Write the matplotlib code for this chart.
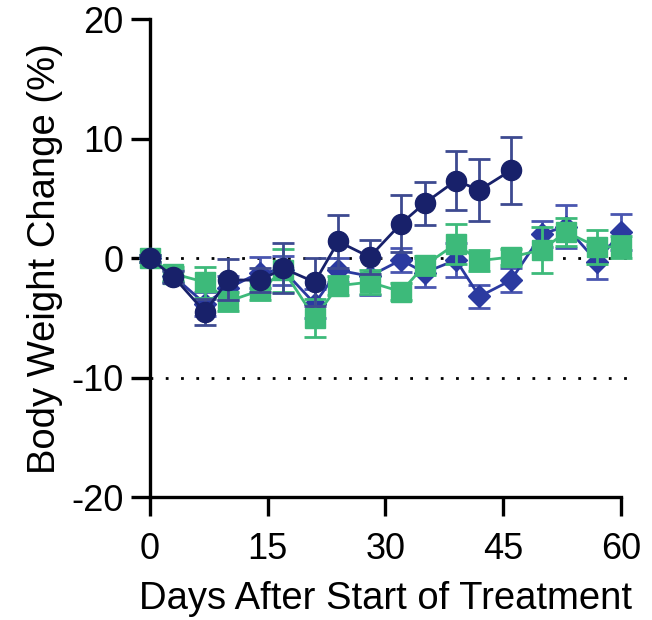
import numpy as np
import matplotlib.pyplot as plt

plt.rcParams['font.family'] = ['Liberation Sans', 'DejaVu Sans']
plt.rcParams['axes.unicode_minus'] = False

days = [0, 3, 7, 10, 14, 17, 21, 24, 28, 32, 35, 39, 42, 46, 50, 53, 57, 60]

# navy circles (stops at day 46)
circ_y = [0, -1.55, -4.5, -1.8, -1.85, -0.85, -2.0, 1.4, 0.1, 2.9, 4.6, 6.5, 5.7, 7.35]
circ_err = [0.3, 0.5, 1.1, 1.7, 1.0, 2.1, 2.0, 2.2, 1.4, 2.4, 1.8, 2.5, 2.6, 2.8]

# green squares
sq_y = [0, -1.3, -2.0, -3.6, -2.7, -1.0, -5.0, -2.3, -2.0, -2.8, -0.6, 1.2, -0.2, 0.1,
        0.7, 2.2, 0.95, 0.95]
sq_err = [0.3, 0.6, 1.3, 0.8, 0.8, 1.8, 1.6, 0.8, 1.0, 0.7, 0.8, 1.7, 0.9, 0.7,
          1.9, 1.2, 1.4, 0.9]

# blue diamonds
dia_y = [0, -1.5, -3.8, -2.5, -1.2, -1.0, -3.8, -1.0, -1.5, -0.15, -1.2, -0.15, -3.2, -1.85,
         2.05, 2.65, -0.3, 2.2]
dia_err = [0.3, 0.5, 1.0, 1.0, 1.3, 1.2, 1.2, 1.0, 1.6, 1.0, 1.2, 1.4, 1.0, 1.0,
           1.1, 1.8, 1.4, 1.5]

navy = '#18216a'
blue = '#2b3aa0'
green = '#3dba7a'

fig = plt.figure(figsize=(6.52, 6.2), dpi=100)
ax = fig.add_axes([0.230, 0.198, 0.722, 0.771])

ax.plot([0, 61], [0, 0], color='black', lw=2, dashes=(1, 4.5), zorder=1, clip_on=False)
ax.plot([0, 61], [-10, -10], color='black', lw=2, dashes=(1, 4.5), zorder=1, clip_on=False)

ax.errorbar(days, dia_y, yerr=dia_err, color=blue, marker='D', ms=11, lw=2,
            elinewidth=2, capsize=8, capthick=2, ecolor='#4a56b0', zorder=2,
            clip_on=False)
ax.errorbar(days, sq_y, yerr=sq_err, color=green, marker='s', ms=14, lw=2,
            elinewidth=2, capsize=8, capthick=2, zorder=3, clip_on=False)
ax.errorbar(days[:len(circ_y)], circ_y, yerr=circ_err, color=navy, marker='o', ms=14.5,
            lw=2, elinewidth=2, capsize=8, capthick=2, ecolor='#3d4a90',
            zorder=4, clip_on=False)

ax.set_xlim(0, 60)
ax.set_ylim(-20, 20)
ax.set_xticks([0, 15, 30, 45, 60])
ax.set_yticks([-20, -10, 0, 10, 20])
ax.spines['top'].set_visible(False)
ax.spines['right'].set_visible(False)
ax.spines['left'].set_linewidth(2.4)
ax.spines['bottom'].set_linewidth(2.4)
ax.tick_params(axis='both', direction='out', length=14, width=2.4, labelsize=26, pad=5,
               colors='black')
ax.tick_params(axis='x', pad=11)

ax.set_xlabel('Days After Start of Treatment', fontsize=27.5, labelpad=10)
ax.set_ylabel('Body Weight Change (%)', fontsize=27.5, labelpad=6)

fig.savefig('out.png', dpi=100)
